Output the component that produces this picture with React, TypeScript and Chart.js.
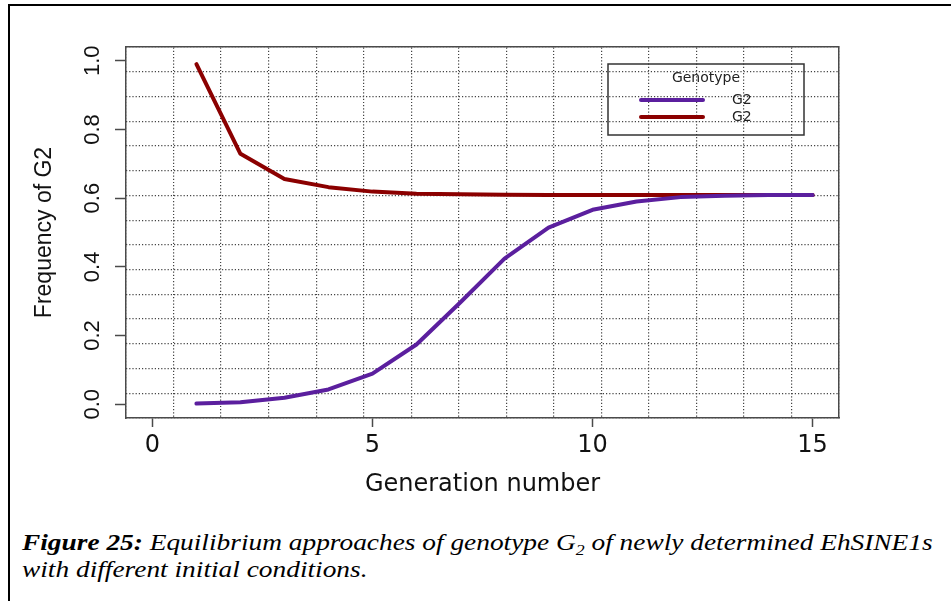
import React, { useEffect, useRef } from 'react';
import { Chart, registerables } from 'chart.js';

Chart.register(...registerables);

// ---- data ----
const generations = [1, 2, 3, 4, 5, 6, 7, 8, 9, 10, 11, 12, 13, 14, 15];
const startLow = [0.002, 0.006, 0.019, 0.043, 0.089, 0.174, 0.297, 0.424, 0.514, 0.566, 0.590, 0.603, 0.607, 0.609, 0.609];
const startHigh = [0.99, 0.729, 0.656, 0.632, 0.619, 0.613, 0.611, 0.610, 0.609, 0.609, 0.609, 0.609, 0.609, 0.609, 0.609];
const seriesLabels = ['G2', 'G2'];
const seriesColors = ['#5b1f9e', '#8b0000'];
const xTickValues = [0, 5, 10, 15];
const yTickValues = [0, 0.2, 0.4, 0.6, 0.8, 1.0];
const legendTitle = 'Genotype';
const xTitle = 'Generation number';
const yTitle = 'Frequency of G2';

const AXIS = '#4a4a4a';
const GRID = '#444';

const legendPlugin = {
  id: 'rLegend',
  afterDatasetsDraw(chart: any) {
    const { ctx, chartArea: a } = chart;
    const left = a.right - 231;
    const top = a.top + 17;
    const w = 196;
    const h = 71;
    ctx.save();
    ctx.strokeStyle = '#333';
    ctx.lineWidth = 1.5;
    ctx.strokeRect(left, top, w, h);
    ctx.fillStyle = '#222';
    ctx.font = '14px "DejaVu Sans"';
    ctx.textAlign = 'center';
    ctx.textBaseline = 'middle';
    ctx.fillText(legendTitle, left + w / 2, top + 14);
    chart.data.datasets.forEach((ds: any, i: number) => {
      const y = top + 36 + i * 17;
      ctx.strokeStyle = ds.borderColor;
      ctx.lineWidth = 4;
      ctx.lineCap = 'round';
      ctx.beginPath();
      ctx.moveTo(left + 33, y);
      ctx.lineTo(left + 95, y);
      ctx.stroke();
      ctx.textAlign = 'left';
      ctx.fillText(ds.label, left + 124, y);
    });
    ctx.restore();
  },
};

export default function App() {
  const ref = useRef<HTMLCanvasElement>(null);

  useEffect(() => {
    const makeData = (vals: number[]) => generations.map((g, i) => ({ x: g, y: vals[i] }));
    const chart = new Chart(ref.current as HTMLCanvasElement, {
      type: 'line',
      data: {
        datasets: [startLow, startHigh].map((vals, i) => ({
          label: seriesLabels[i],
          data: makeData(vals),
          borderColor: seriesColors[i],
          backgroundColor: seriesColors[i],
          borderWidth: 4,
          pointRadius: 0,
          tension: 0,
          borderCapStyle: 'round',
          borderJoinStyle: 'round',
          xAxisID: 'x',
          yAxisID: 'y',
        })),
      },
      options: {
        animation: false,
        responsive: false,
        layout: { padding: { left: 0, top: 47, right: 112, bottom: 2 } },
        plugins: { legend: { display: false }, tooltip: { enabled: false } },
        scales: {
          x: {
            type: 'linear',
            position: 'bottom',
            min: -0.6,
            max: 15.6,
            afterBuildTicks: (s: any) => { s.ticks = xTickValues.map((v) => ({ value: v })); },
            afterFit: (s: any) => { s.height = 100; },
            ticks: {
              font: { family: 'DejaVu Sans', size: 24 },
              color: '#111',
              padding: 4,
              autoSkip: false,
              maxRotation: 0,
              callback: (v: any) => String(v),
            },
            grid: { drawOnChartArea: false, drawTicks: true, tickLength: 9, tickColor: AXIS, tickWidth: 1.5 },
            border: { display: true, color: AXIS, width: 1.5 },
            title: {
              display: true,
              text: xTitle,
              font: { family: 'DejaVu Sans', size: 24 },
              color: '#111',
              padding: { top: 0, bottom: 19 },
            },
          },
          y: {
            type: 'linear',
            position: 'left',
            min: -0.04,
            max: 1.04,
            afterBuildTicks: (s: any) => { s.ticks = yTickValues.map((v) => ({ value: v })); },
            afterFit: (s: any) => { s.width = 126; },
            ticks: {
              font: { family: 'Liberation Sans', size: 22 },
              color: '#111',
              minRotation: 90,
              maxRotation: 90,
              crossAlign: 'center',
              padding: 7,
              autoSkip: false,
              callback: (v: any) => Number(v).toFixed(1),
            },
            grid: { drawOnChartArea: false, drawTicks: true, tickLength: 11, tickColor: AXIS, tickWidth: 1.5 },
            border: { display: true, color: AXIS, width: 1.5 },
            title: {
              display: true,
              text: yTitle,
              font: { family: 'Liberation Sans', size: 23 },
              color: '#111',
              padding: { top: 31, bottom: 0 },
            },
          },
          xg: {
            type: 'linear',
            position: 'top',
            min: 0,
            max: 15,
            afterFit: (s: any) => { s.height = 0; },
            ticks: { display: false, stepSize: 1 },
            grid: { drawTicks: false, color: GRID, lineWidth: 1.2 },
            border: { display: true, color: AXIS, width: 1.5, dash: [1.2, 2] },
          },
          yg: {
            type: 'linear',
            position: 'right',
            min: 0,
            max: 15,
            afterFit: (s: any) => { s.width = 0; },
            ticks: { display: false, stepSize: 1 },
            grid: { drawTicks: false, color: GRID, lineWidth: 1.2 },
            border: { display: true, color: AXIS, width: 1.5, dash: [1.2, 2] },
          },
        },
      },
      plugins: [legendPlugin],
    } as any);
    return () => chart.destroy();
  }, []);

  return (
    <div style={{ position: 'fixed', left: 0, top: 0, width: 951, height: 601, background: '#fff', overflow: 'hidden' }}>
      <div
        style={{
          position: 'absolute',
          left: 8,
          top: 4,
          width: 943,
          height: 597,
          borderTop: '2px solid #000',
          borderLeft: '2px solid #000',
        }}
      />
      <div style={{ position: 'absolute', left: 0, top: 0, width: 951, height: 520 }}>
        <canvas ref={ref} width={951} height={520} style={{ display: 'block' }} />
      </div>
      <div
        style={{
          position: 'absolute',
          left: 22,
          top: 530,
          fontFamily: '"Liberation Serif", "Times New Roman", serif',
          fontStyle: 'italic',
          fontSize: 24,
          lineHeight: '25px',
          color: '#000',
          whiteSpace: 'nowrap',
          transform: 'scaleX(1.14)',
          transformOrigin: 'left top',
        }}
      >
        <span style={{ fontWeight: 'bold' }}>Figure 25:</span> Equilibrium approaches of genotype G
        <span style={{ fontSize: '0.65em', position: 'relative', top: '0.3em' }}>2</span> of newly determined EhSINE1s
        <br />
        with different initial conditions.
      </div>
    </div>
  );
}
